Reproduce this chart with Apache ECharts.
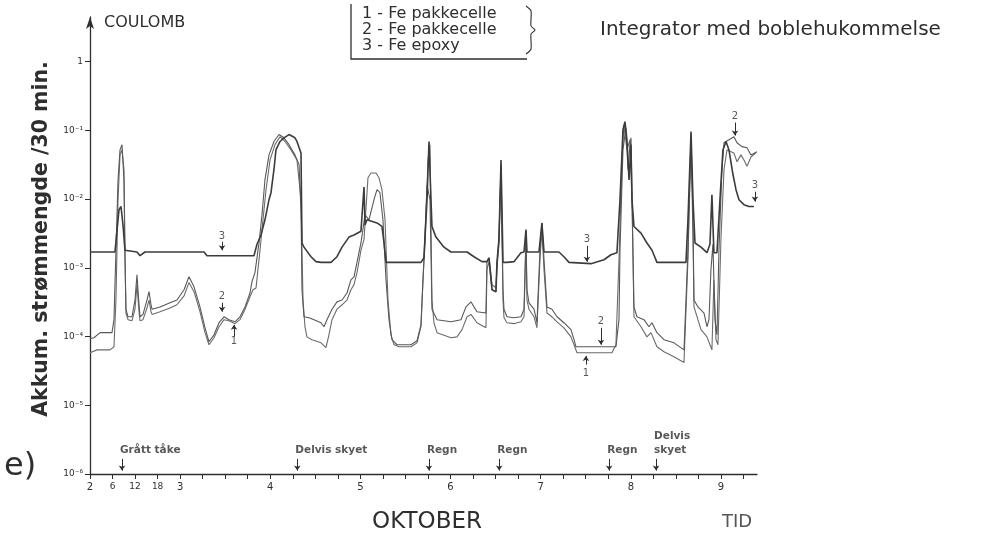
<!DOCTYPE html>
<html>
<head>
<meta charset="utf-8">
<script src="https://cdn.jsdelivr.net/npm/echarts@6/dist/echarts.min.js"></script>
<style>
  html, body { margin: 0; padding: 0; background: #fff; }
  #chart { width: 1000px; height: 535px; }
</style>
</head>
<body>
<div id="chart"></div>
<script>
// Accumulated charge (coulomb per 30 min) against time, October 2–9.
// Each series: [day of October (decimal), charge].

// Curve 1 – Fe pakkecelle
const fe1 = [[2.0,5.8e-5],[2.078,6.4e-5],[2.222,6.4e-5],[2.266,7.1e-5],[2.288,3.4e-4],[2.311,9.8e-3],[2.333,4.4e-2],[2.355,5.2e-2],[2.377,2.7e-2],[2.388,1.8e-3],
  [2.399,2.2e-4],[2.422,1.76e-4],[2.466,1.7e-4],[2.499,2.5e-4],[2.521,5.7e-4],[2.544,2.3e-4],[2.555,1.7e-4],[2.588,1.76e-4],[2.632,2.6e-4],[2.655,3.4e-4],
  [2.677,2.3e-4],[2.688,2.1e-4],[2.777,2.3e-4],[2.888,2.6e-4],[2.965,2.9e-4],[3.043,3.9e-4],[3.098,6.1e-4],[3.154,4.5e-4],[3.22,2.3e-4],[3.276,1.14e-4],
  [3.32,7.6e-5],[3.376,9.6e-5],[3.431,1.39e-4],[3.487,1.76e-4],[3.542,1.7e-4],[3.609,1.54e-4],[3.664,1.76e-4],[3.72,2.5e-4],[3.775,3.8e-4],[3.808,4.8e-4],
  [3.842,5.1e-4],[3.886,1.8e-3],[3.919,5.0e-3],[3.953,1.37e-2],[3.997,3.7e-2],[4.052,6.2e-2],[4.108,8.1e-2],[4.163,6.9e-2],[4.23,5.2e-2],[4.296,3.7e-2],
  [4.341,9.8e-3],[4.363,3.4e-4],[4.385,1.39e-4],[4.407,9.9e-5],[4.463,9.0e-5],[4.563,8.1e-5],[4.618,6.9e-5],[4.651,1.06e-4],[4.685,1.76e-4],[4.74,2.5e-4],
  [4.796,2.9e-4],[4.851,3.4e-4],[4.895,4.8e-4],[4.929,5.7e-4],[4.962,8.5e-4],[5.006,1.8e-3],[5.04,2.6e-3],[5.084,2.05e-2],[5.117,2.4e-2],[5.173,2.4e-2],
  [5.206,2.05e-2],[5.239,1.37e-2],[5.273,5.0e-3],[5.306,3.4e-4],[5.339,1.06e-4],[5.373,7.6e-5],[5.428,7.1e-5],[5.561,7.1e-5],[5.628,8.1e-5],[5.672,1.39e-4],
  [5.694,6.7e-4],[5.716,2.3e-3],[5.75,3.7e-2],[5.772,6.2e-2],[5.794,3.4e-4],[5.816,1.59e-4],[5.85,1.14e-4],[6.005,9.6e-5],[6.072,9.9e-5],[6.127,1.26e-4],
  [6.183,1.94e-4],[6.227,2.1e-4],[6.293,1.59e-4],[6.393,1.34e-4],[6.404,9.4e-4],[6.427,1.23e-3],[6.46,4.8e-4],[6.504,4.5e-4],[6.515,1.0e-3],[6.537,2.2e-3],
  [6.56,2.7e-2],[6.582,3.4e-4],[6.593,1.88e-4],[6.626,1.59e-4],[6.704,1.54e-4],[6.781,1.64e-4],[6.815,1.94e-4],[6.837,2.6e-3],[6.848,3.4e-4],[6.87,2.5e-4],
  [6.926,1.94e-4],[6.959,1.34e-4],[6.992,1.31e-3],[7.014,3.6e-3],[7.037,9.4e-4],[7.07,2.2e-4],[7.125,1.94e-4],[7.181,1.64e-4],[7.258,1.34e-4],[7.336,9.9e-5],
  [7.37,7.6e-5],[7.403,5.8e-5],[7.791,5.8e-5],[7.835,7.6e-5],[7.869,1.31e-3],[7.902,3.7e-2],[7.924,0.12],[7.957,5.2e-2],[7.991,7.3e-2],[8.013,9.8e-3],
  [8.035,1.94e-4],[8.113,1.39e-4],[8.179,9.9e-5],[8.224,1.14e-4],[8.29,7.1e-5],[8.368,6.0e-5],[8.479,5.1e-5],[8.59,4.2e-5],[8.612,4.2e-5],[8.634,1.31e-3],
  [8.668,7.3e-2],[8.69,2.6e-3],[8.701,2.7e-4],[8.779,1.26e-4],[8.845,9.9e-5],[8.878,7.6e-5],[8.9,6.4e-5],[8.922,6.7e-4],[8.945,9.0e-5],[8.967,7.6e-5],
  [9.0,2.6e-3],[9.034,2.7e-2],[9.067,5.2e-2],[9.144,4.7e-2],[9.178,3.5e-2],[9.222,4.4e-2],[9.255,3.7e-2],[9.289,3.0e-2],[9.333,4.1e-2],[9.388,4.7e-2]];

// Curve 2 – Fe pakkecelle
const fe2 = [[2.0,9.3e-5],[2.044,9.6e-5],[2.111,1.14e-4],[2.244,1.14e-4],[2.266,1.76e-4],[2.288,1.8e-3],[2.311,1.9e-2],[2.333,5.2e-2],[2.355,6.2e-2],[2.377,1.9e-2],
  [2.388,1.31e-3],[2.399,2.5e-4],[2.422,1.94e-4],[2.466,1.94e-4],[2.499,3.4e-4],[2.521,7.9e-4],[2.544,2.9e-4],[2.555,1.94e-4],[2.588,2.1e-4],[2.632,3.4e-4],
  [2.655,4.5e-4],[2.677,2.9e-4],[2.688,2.5e-4],[2.777,2.7e-4],[2.888,3.1e-4],[2.965,3.4e-4],[3.043,4.8e-4],[3.098,7.4e-4],[3.154,5.3e-4],[3.22,2.7e-4],
  [3.276,1.34e-4],[3.32,8.4e-5],[3.376,1.06e-4],[3.431,1.59e-4],[3.487,1.94e-4],[3.542,1.76e-4],[3.609,1.64e-4],[3.664,1.94e-4],[3.72,2.7e-4],[3.775,4.3e-4],
  [3.797,6.3e-4],[3.83,8.5e-4],[3.875,2.3e-3],[3.908,5.9e-3],[3.941,1.9e-2],[3.986,4.4e-2],[4.041,6.9e-2],[4.097,8.7e-2],[4.152,7.8e-2],[4.208,6.2e-2],
  [4.274,4.4e-2],[4.319,3.2e-2],[4.341,7.0e-3],[4.352,4.8e-4],[4.374,1.94e-4],[4.43,1.88e-4],[4.485,1.76e-4],[4.563,1.59e-4],[4.596,1.39e-4],[4.629,1.76e-4],
  [4.685,2.5e-4],[4.74,3.2e-4],[4.796,3.4e-4],[4.851,4.3e-4],[4.895,6.7e-4],[4.929,7.4e-4],[4.962,1.2e-3],[5.006,2.3e-3],[5.051,5.9e-3],[5.095,5.0e-3],
  [5.151,9.8e-3],[5.184,1.37e-2],[5.217,1.24e-2],[5.25,5.0e-3],[5.284,6.7e-4],[5.317,1.76e-4],[5.35,9.0e-5],[5.406,7.6e-5],[5.561,7.6e-5],[5.628,8.7e-5],
  [5.672,1.48e-4],[5.705,1.31e-3],[5.739,1.6e-2],[5.772,9.8e-3],[5.794,2.5e-4],[5.85,1.76e-4],[6.005,1.64e-4],[6.116,1.76e-4],[6.171,2.7e-4],[6.227,3.2e-4],
  [6.26,2.7e-4],[6.293,2.3e-4],[6.393,2.2e-4],[6.404,1.23e-3],[6.427,1.4e-3],[6.46,5.7e-4],[6.504,5.1e-4],[6.515,1.11e-3],[6.537,2.6e-3],[6.56,3.2e-2],
  [6.582,4.8e-4],[6.593,2.5e-4],[6.626,1.94e-4],[6.704,1.88e-4],[6.781,1.94e-4],[6.815,2.5e-4],[6.837,3.0e-3],[6.848,4.8e-4],[6.87,3.1e-4],[6.926,2.5e-4],
  [6.959,1.59e-4],[6.992,1.8e-3],[7.014,4.5e-3],[7.037,1.31e-3],[7.07,2.7e-4],[7.125,2.5e-4],[7.181,1.94e-4],[7.258,1.59e-4],[7.336,1.26e-4],[7.37,9.0e-5],
  [7.392,7.1e-5],[7.835,7.1e-5],[7.869,1.76e-4],[7.88,1.8e-3],[7.913,5.2e-2],[7.946,0.11],[7.968,2.7e-2],[7.991,6.2e-2],[8.002,7.8e-2],[8.024,1.8e-3],
  [8.035,2.7e-4],[8.068,1.94e-4],[8.146,1.76e-4],[8.201,1.39e-4],[8.235,1.59e-4],[8.29,1.14e-4],[8.368,9.0e-5],[8.479,8.1e-5],[8.59,6.4e-5],[8.612,6.0e-5],
  [8.634,1.8e-3],[8.668,8.7e-2],[8.69,5.0e-3],[8.701,3.4e-4],[8.745,2.7e-4],[8.812,2.2e-4],[8.845,1.39e-4],[8.867,1.76e-4],[8.889,9.4e-4],[8.911,2.2e-3],
  [8.934,1.76e-4],[8.956,1.06e-4],[8.978,1.8e-3],[9.011,2.7e-2],[9.034,6.6e-2],[9.089,7.3e-2],[9.144,8.1e-2],[9.178,6.6e-2],[9.233,5.8e-2],[9.289,5.6e-2],
  [9.333,4.4e-2],[9.4,4.9e-2]];

// Curve 3 – Fe epoxy
const fe3 = [[2.0,1.7e-3],[2.277,1.7e-3],[2.30,3.6e-3],[2.322,7.0e-3],[2.344,7.8e-3],[2.366,4.2e-3],[2.388,1.8e-3],[2.41,1.7e-3],[2.521,1.7e-3],[2.555,1.5e-3],
  [2.61,1.7e-3],[3.265,1.7e-3],[3.298,1.5e-3],[3.819,1.5e-3],[3.853,2.2e-3],[3.897,3.0e-3],[3.941,5.0e-3],[3.986,9.8e-3],[4.008,1.24e-2],[4.041,2.7e-2],
  [4.063,5.2e-2],[4.108,6.9e-2],[4.152,7.8e-2],[4.208,8.7e-2],[4.23,8.7e-2],[4.274,7.8e-2],[4.296,6.9e-2],[4.341,4.7e-2],[4.352,2.3e-3],[4.374,2.0e-3],
  [4.452,1.45e-3],[4.507,1.23e-3],[4.563,1.2e-3],[4.674,1.2e-3],[4.74,1.45e-3],[4.796,2.0e-3],[4.873,2.8e-3],[4.929,3.0e-3],[5.006,3.4e-3],[5.028,3.4e-3],
  [5.04,1.5e-2],[5.051,4.2e-3],[5.073,5.0e-3],[5.184,4.5e-3],[5.239,4.0e-3],[5.262,2.3e-3],[5.284,1.2e-3],[5.672,1.2e-3],[5.705,1.4e-3],[5.739,9.8e-3],
  [5.761,6.9e-2],[5.783,9.8e-3],[5.794,4.0e-3],[5.838,2.8e-3],[5.927,2.0e-3],[6.005,1.7e-3],[6.183,1.7e-3],[6.26,1.45e-3],[6.349,1.23e-3],[6.404,1.23e-3],
  [6.427,1.4e-3],[6.46,4.8e-4],[6.504,4.5e-4],[6.515,1.2e-3],[6.537,2.6e-3],[6.56,3.7e-2],[6.582,1.2e-3],[6.626,1.2e-3],[6.704,1.23e-3],[6.781,1.66e-3],
  [6.815,1.7e-3],[6.837,3.6e-3],[6.848,1.7e-3],[6.981,1.7e-3],[7.014,4.5e-3],[7.037,1.7e-3],[7.203,1.7e-3],[7.258,1.45e-3],[7.314,1.2e-3],[7.558,1.15e-3],
  [7.702,1.31e-3],[7.78,1.55e-3],[7.846,1.66e-3],[7.88,9.8e-3],[7.913,0.102],[7.935,0.134],[7.957,7.3e-2],[7.98,1.9e-2],[8.002,6.2e-2],[8.013,9.8e-3],
  [8.035,4.0e-3],[8.113,3.2e-3],[8.179,2.3e-3],[8.235,1.8e-3],[8.29,1.2e-3],[8.612,1.2e-3],[8.634,5.0e-3],[8.668,9.6e-2],[8.69,9.8e-3],[8.712,2.3e-3],
  [8.779,2.0e-3],[8.845,1.66e-3],[8.878,2.2e-3],[8.9,1.16e-2],[8.922,1.66e-3],[8.956,1.66e-3],[8.989,9.8e-3],[9.022,5.2e-2],[9.056,6.9e-2],[9.089,5.2e-2],
  [9.133,2.3e-2],[9.167,1.37e-2],[9.2,9.8e-3],[9.255,8.3e-3],[9.311,7.8e-3],[9.366,7.8e-3]];

// Axis labels
const dayTicks = [2, 3, 4, 5, 6, 7, 8, 9];
const hourTicks = [6, 12, 18];
const yTickLabels = ['10⁻⁶', '10⁻⁵', '10⁻⁴', '10⁻³', '10⁻²', '10⁻¹', '1'];

// Curve numbers with small pointer arrows
const tagText = ['3', '2', '1', '3', '2', '1', '2', '3'];
const tagDay = [3.465, 3.465, 3.598, 7.513, 7.669, 7.502, 9.156, 9.377];
const tagAt = [2.9e-3, 3.8e-4, 8.4e-5, 2.6e-3, 1.64e-4, 2.9e-5, 0.158, 1.57e-2];
const tagArrowFrom = [2.4e-3, 3.1e-4, 1.0e-4, 2.1e-3, 1.34e-4, 3.9e-5, 0.13, 1.28e-2];
const tagArrowTo = [1.8e-3, 2.3e-4, 1.48e-4, 1.23e-3, 7.6e-5, 5.2e-5, 8.4e-2, 9.2e-3];

// Weather notes along the time axis
const weatherText = ['Grått tåke', 'Delvis skyet', 'Regn', 'Regn', 'Regn', 'Delvis\nskyet'];
const weatherDay = [2.355, 4.30, 5.76, 6.54, 7.76, 8.28];
const weatherArrowTop = 1.66e-6;
const weatherArrowTip = 1.12e-6;

const lg = v => Math.log10(v);
const toXY = arr => arr.map(p => [p[0], lg(p[1])]);

const quarterTicks = [];
for (let d = 2; d <= 9.25 + 1e-9; d += 0.25) quarterTicks.push(+d.toFixed(2));
const xLabelValues = dayTicks.concat(hourTicks.map(h => 2 + h / 24));

const ink = '#2e2e2e';
const fontFam = 'DejaVu Sans';

const chart = echarts.init(document.getElementById('chart'), null, { renderer: 'canvas' });

chart.setOption({
  animation: false,
  backgroundColor: '#fff',
  grid: { left: 90, top: 17, width: 667, height: 457, containLabel: false },
  xAxis: {
    type: 'value', min: 2, max: 9.4,
    axisLine: { onZero: false, lineStyle: { color: ink, width: 1.3 } },
    axisTick: { customValues: quarterTicks, length: 5, lineStyle: { color: ink, width: 1 } },
    axisLabel: {
      customValues: xLabelValues,
      color: ink, fontFamily: fontFam, fontSize: 10, margin: 8,
      formatter: v => {
        if (Math.abs(v - Math.round(v)) < 1e-6) return String(Math.round(v));
        return '{h|' + Math.round((v - 2) * 24) + '}';
      },
      rich: { h: { fontSize: 9, fontFamily: fontFam, color: ink } }
    },
    splitLine: { show: false }
  },
  yAxis: {
    type: 'value', min: -6, max: 0.65,
    axisLine: { show: true, onZero: false, lineStyle: { color: ink, width: 1.3 },
      symbol: ['none', 'arrow'], symbolSize: [6, 12] },
    axisTick: { show: true, customValues: [-6, -5, -4, -3, -2, -1, 0], length: 5, lineStyle: { color: ink } },
    axisLabel: {
      customValues: [-6, -5, -4, -3, -2, -1, 0],
      formatter: v => yTickLabels[Math.round(v) + 6],
      color: ink, fontFamily: fontFam, fontSize: 9, margin: 7
    },
    splitLine: { show: false }
  },
  series: [
    {
      name: '1 - Fe pakkecelle', type: 'line', data: toXY(fe1), symbol: 'none',
      lineStyle: { color: '#6b6b6b', width: 1.1 }, z: 2
    },
    {
      name: '2 - Fe pakkecelle', type: 'line', data: toXY(fe2), symbol: 'none',
      lineStyle: { color: '#585858', width: 1.1 }, z: 3
    },
    {
      name: '3 - Fe epoxy', type: 'line', data: toXY(fe3), symbol: 'none',
      lineStyle: { color: '#3c3c3c', width: 1.6 }, z: 4
    },
    {
      name: 'tags', type: 'scatter', symbolSize: 0, silent: true, z: 5,
      data: tagText.map((t, i) => ({ value: [tagDay[i], lg(tagAt[i])], name: t })),
      label: { show: true, position: 'inside', formatter: p => p.name,
        color: ink, fontFamily: fontFam, fontSize: 10 },
      markLine: {
        silent: true, symbol: ['none', 'arrow'], symbolSize: 5,
        label: { show: false },
        lineStyle: { color: ink, width: 1, type: 'solid' },
        data: tagText.map((t, i) => [
          { coord: [tagDay[i], lg(tagArrowFrom[i])] },
          { coord: [tagDay[i], lg(tagArrowTo[i])] }
        ])
      }
    },
    {
      name: 'weather', type: 'scatter', symbolSize: 0, silent: true, z: 5,
      data: weatherText.map((t, i) => ({ value: [weatherDay[i], lg(weatherArrowTop)], name: t })),
      label: { show: true, position: [-2, -2], align: 'left', verticalAlign: 'bottom',
        formatter: p => p.name, color: ink, fontFamily: fontFam, fontSize: 10.5,
        fontWeight: 'bold', lineHeight: 14 },
      markLine: {
        silent: true, symbol: ['none', 'arrow'], symbolSize: 5,
        label: { show: false },
        lineStyle: { color: ink, width: 1, type: 'solid' },
        data: weatherDay.map(d => [
          { coord: [d, lg(weatherArrowTop)] },
          { coord: [d, lg(weatherArrowTip)] }
        ])
      }
    }
  ],
  graphic: [
    { type: 'text', x: 104, y: 23, style: { text: 'COULOMB', fontFamily: fontFam, fontSize: 16,
        fill: ink, align: 'left', verticalAlign: 'middle' } },
    { type: 'text', x: 42, y: 239, rotation: Math.PI / 2,
      style: { text: 'Akkum. strømmengde /30 min.', fontFamily: fontFam, fontSize: 20.5, fontWeight: 'bold',
        fill: ink, align: 'center', verticalAlign: 'middle' } },
    { type: 'text', x: 4, y: 467, style: { text: 'e)', fontFamily: fontFam, fontSize: 32,
        fill: ink, align: 'left', verticalAlign: 'middle' } },
    { type: 'text', x: 427, y: 522, style: { text: 'OKTOBER', fontFamily: fontFam, fontSize: 23,
        fill: ink, align: 'center', verticalAlign: 'middle' } },
    { type: 'text', x: 722, y: 522, style: { text: 'TID', fontFamily: fontFam, fontSize: 18,
        fill: '#555', align: 'left', verticalAlign: 'middle' } },
    // legend block
    { type: 'polyline', shape: { points: [[351, 4], [351, 59], [527, 59]] },
      style: { stroke: ink, lineWidth: 1.3, fill: null } },
    { type: 'text', x: 362, y: 14, style: { text: '1 - Fe pakkecelle', fontFamily: fontFam, fontSize: 16,
        fill: ink, align: 'left', verticalAlign: 'middle' } },
    { type: 'text', x: 362, y: 30, style: { text: '2 - Fe pakkecelle', fontFamily: fontFam, fontSize: 16,
        fill: ink, align: 'left', verticalAlign: 'middle' } },
    { type: 'text', x: 362, y: 46, style: { text: '3 - Fe epoxy', fontFamily: fontFam, fontSize: 16,
        fill: ink, align: 'left', verticalAlign: 'middle' } },
    { type: 'polyline', shape: { points: [[526, 6], [531, 11], [531, 26], [535, 30], [531, 34], [531, 49], [526, 54]], smooth: 0.25 },
      style: { stroke: ink, lineWidth: 1.1, fill: null } },
    { type: 'text', x: 600, y: 30, style: { text: 'Integrator med boblehukommelse', fontFamily: fontFam, fontSize: 20,
        fill: ink, align: 'left', verticalAlign: 'middle' } }
  ]
});
</script>
</body>
</html>
